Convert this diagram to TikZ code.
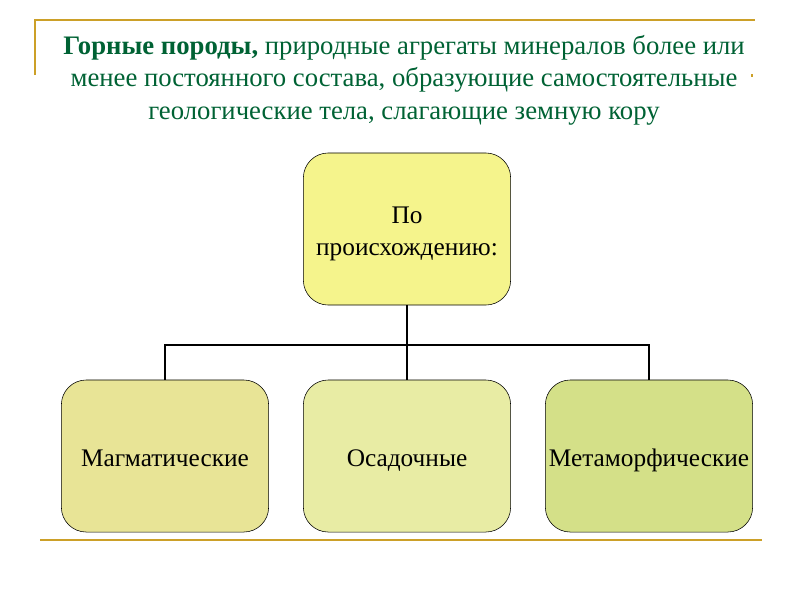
\documentclass[tikz,border=0pt]{standalone}
\usepackage{fontspec}
\setmainfont{Liberation Serif}
\definecolor{titlegreen}{RGB}{0,98,52}
\definecolor{goldline}{RGB}{204,160,40}
\definecolor{topfill}{RGB}{245,244,140}
\definecolor{magfill}{RGB}{232,228,150}
\definecolor{sedfill}{RGB}{232,236,164}
\definecolor{metfill}{RGB}{212,224,136}
\tikzset{
  rockbox/.style={draw, rounded corners=0.62cm, minimum width=5.18cm, minimum height=3.8cm,
    font=\fontsize{18}{23}\selectfont, align=center, inner sep=1pt},
  kindbox/.style={rockbox, text height=3.4ex, text depth=0ex},
  link/.style={line width=1.4pt}
}
\begin{document}
\begin{tikzpicture}[x=0.025cm, y=-0.025cm]
\useasboundingbox (0,0) rectangle (800,600);
\draw[goldline, line width=1.6pt] (35,75) -- (35,20) -- (755,20);
\draw[goldline, line width=1.6pt] (40,540) -- (762,540);
\fill[goldline] (751,74) rectangle (753,77);
\node[text=titlegreen, align=center, font=\fontsize{19}{23}\selectfont] (title) at (404,80)
  {\textbf{Горные породы,} природные агрегаты минералов более или\\
   менее постоянного состава, образующие самостоятельные\\
   геологические тела, слагающие земную кору};
\node[rockbox, fill=topfill] (origin) at (407,229) {\rule{0pt}{19pt}По\\происхождению:};
\node[kindbox, fill=magfill] (magma) at (165,456) {Магматические};
\node[kindbox, fill=sedfill] (sedim) at (407,456) {Осадочные};
\node[kindbox, fill=metfill] (metam) at (649,456) {Метаморфические};
\coordinate (fork) at (407,345);
\draw[link] (origin.south) -- (fork);
\draw[link] (fork) -| (magma.north);
\draw[link] (fork) -- (sedim.north);
\draw[link] (fork) -| (metam.north);
\end{tikzpicture}
\end{document}
